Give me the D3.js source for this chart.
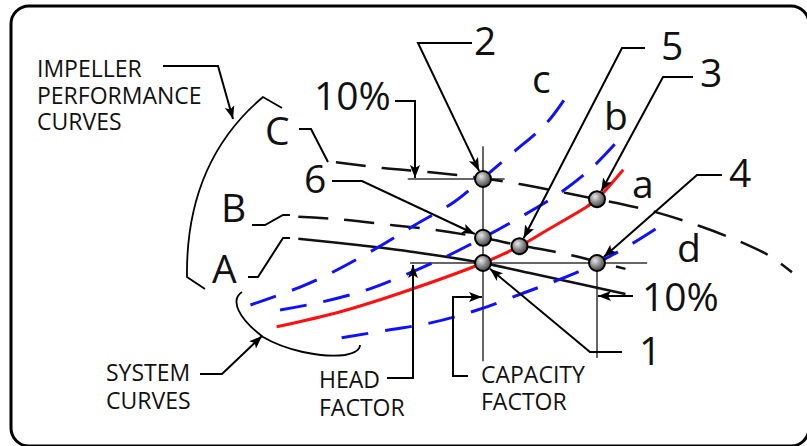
<!DOCTYPE html>
<html>
<head>
<meta charset="utf-8">
<script src="https://cdn.jsdelivr.net/npm/d3@7"></script>
<style>
  body { margin: 0; background: #fff; }
  text { font-family: "Open Sans", sans-serif; fill: #111; }
</style>
</head>
<body>
<script>
// capacity and head, both in % of the rated point (point 1)
var pumpC = [[87.1, 112.0], [91.2, 111.3], [95.4, 110.8], [100, 110.1], [103.2, 109.4], [107.4, 108.3],
  [110, 107.6], [112.5, 106.9], [115.3, 106.0], [119.0, 104.4], [122.8, 102.4], [125.2, 100.8], [127.1, 98.9]]
var pumpB = [[83.8, 105.5], [87.5, 105.2], [92.1, 104.5], [96.0, 103.9], [100, 103.0], [103.2, 102.1],
  [106.8, 101.2], [109.9, 100.2], [112.5, 99.3]]
var pumpA = [[83.8, 102.9], [89.2, 102.1], [94.5, 101.2], [100, 100], [104.1, 98.8], [108.5, 97.5], [112.5, 96.3]]

var sysA = [[81.9, 92.4], [87.5, 94.2], [92.7, 96.4], [100, 100], [103.2, 102.0], [105.6, 103.9],
  [109.1, 106.7], [110, 107.6], [112.3, 111.1]]
var sysB = [[82.2, 94.4], [86.0, 95.4], [89.8, 96.8], [92.5, 98.2], [96.2, 100.4], [100, 103.0],
  [103.2, 105.4], [106.5, 108.1], [109.6, 111.4], [111.8, 114.5]]
var sysC = [[79.6, 95.0], [83.9, 97.1], [86.8, 98.9], [90.7, 101.8], [94.0, 104.5], [97.5, 107.3],
  [100, 110.1], [102.6, 113.1], [105.6, 116.7], [107.4, 120.0]]
var sysD = [[87.6, 91.1], [91.6, 92.0], [95.5, 92.9], [99.5, 94.4], [103.5, 96.4], [107.0, 98.2],
  [110, 100], [113.2, 102.4], [116.1, 104.9]]

var pointIds = ['1', '2', '3', '4', '5', '6']
var pointCap = [100, 100, 110, 110, 103.2, 100]
var pointHead = [100, 110, 107.6, 100, 102, 103]

// guide lines: [cap1, head1, cap2, head2]
var guides = [[100, 88.3, 100, 113.9], [93.6, 100, 114.4, 100], [93.4, 110, 101.9, 110], [110, 100, 110, 88.7]]

var bigLabels = ['1', '2', '3', '4', '5', '6']
var curveLabels = ['A', 'B', 'C', 'a', 'b', 'c', 'd']

var W = 807, H = 446
var blue = '#1010ff', red = '#ff1010'

var x = d3.scaleLinear().domain([100, 110]).range([483, 597])
var y = d3.scaleLinear().domain([100, 110]).range([263, 179])

var svg = d3.select('body').append('svg').attr('width', W).attr('height', H)

var defs = svg.append('defs')
var grad = defs.append('radialGradient').attr('id', 'ball').attr('cx', '38%').attr('cy', '35%').attr('r', '65%')
grad.append('stop').attr('offset', '0%').attr('stop-color', '#e8e8e8')
grad.append('stop').attr('offset', '55%').attr('stop-color', '#8a8a8a')
grad.append('stop').attr('offset', '100%').attr('stop-color', '#4a4a4a')
defs.append('marker').attr('id', 'arr')
  .attr('markerUnits', 'userSpaceOnUse').attr('markerWidth', 14).attr('markerHeight', 10)
  .attr('refX', 13).attr('refY', 5).attr('orient', 'auto')
  .append('path').attr('d', 'M0,0 L13,5 L0,10 L3,5 z').attr('fill', '#000')

// frame
svg.append('rect').attr('x', 11).attr('y', 6).attr('width', 798).attr('height', 440).attr('rx', 18)
  .attr('fill', 'none').attr('stroke', '#000').attr('stroke-width', 3)

var line = d3.line().x(d => x(d[0])).y(d => y(d[1])).curve(d3.curveCatmullRom.alpha(0.5))

// guide lines
svg.selectAll('line.guide').data(guides).enter().append('line').attr('class', 'guide')
  .attr('x1', d => x(d[0])).attr('y1', d => y(d[1]))
  .attr('x2', d => x(d[2])).attr('y2', d => y(d[3]))
  .attr('stroke', '#333').attr('stroke-width', 1.5)

// pump curves
svg.append('path').attr('d', line(pumpC)).attr('fill', 'none').attr('stroke', '#111')
  .attr('stroke-width', 2.5).attr('stroke-dasharray', '30,16')
svg.append('path').attr('d', line(pumpB)).attr('fill', 'none').attr('stroke', '#111')
  .attr('stroke-width', 2.5).attr('stroke-dasharray', '30,16')
svg.append('path').attr('d', line(pumpA)).attr('fill', 'none').attr('stroke', '#111')
  .attr('stroke-width', 2.5)

// system curves
var sysDashed = [sysB, sysC, sysD]
svg.selectAll('path.sys').data(sysDashed).enter().append('path').attr('class', 'sys')
  .attr('d', d => line(d)).attr('fill', 'none').attr('stroke', blue)
  .attr('stroke-width', 3).attr('stroke-dasharray', '27,17')
svg.append('path').attr('d', line(sysA)).attr('fill', 'none').attr('stroke', red).attr('stroke-width', 3)

// leaders
function leader(pts, arrow) {
  svg.append('path').attr('d', d3.line()(pts)).attr('fill', 'none')
    .attr('stroke', '#000').attr('stroke-width', 2)
    .attr('marker-end', arrow ? 'url(#arr)' : null)
}
function toPoint(i, from) {
  var cx = x(pointCap[i]), cy = y(pointHead[i])
  var dx = from[0] - cx, dy = from[1] - cy, L = Math.hypot(dx, dy)
  return [cx + dx / L * 9, cy + dy / L * 9]
}

leader([[472, 43], [418, 43], toPoint(1, [418, 43])], true)
leader([[645, 48], [622, 48], toPoint(4, [622, 48])], true)
leader([[693, 77], [663, 77], toPoint(2, [663, 77])], true)
leader([[722, 175], [697, 175], toPoint(3, [697, 175])], true)
leader([[332, 181], [362, 181], toPoint(5, [362, 181])], true)
leader([[622, 352], [590, 352], toPoint(0, [590, 352])], true)

leader([[395, 101], [415, 101], [415, y(110) - 1]], true)
leader([[633, 296], [x(110) + 1, 296]], true)
leader([[387, 378], [413, 378], [413, y(100) + 2]], true)
leader([[468, 376], [453, 376], [453, 297], [x(100) - 1, 297]], true)
leader([[163, 66], [218, 66], [233, 119]], true)
leader([[200, 374], [222, 374], [262, 336]], true)

leader([[299, 129], [311, 129], [328, 162]], false)
leader([[252, 225], [265, 225], [283, 215], [290, 215]], false)
leader([[248, 277], [258, 277], [283, 238], [290, 238]], false)

// brackets
svg.append('path').attr('d', 'M282,108 L263,97 C212,140 186,200 187,277 L205,289')
  .attr('fill', 'none').attr('stroke', '#000').attr('stroke-width', 1.8)
svg.append('path').attr('d', 'M242,292 C230,300 238,318 263,337 C285,350 320,358 345,355 C355,353 360,350 360,345')
  .attr('fill', 'none').attr('stroke', '#000').attr('stroke-width', 1.8)

// operating points
svg.selectAll('circle.pt').data(pointIds).enter().append('circle').attr('class', 'pt')
  .attr('cx', (d, i) => x(pointCap[i])).attr('cy', (d, i) => y(pointHead[i])).attr('r', 8)
  .attr('fill', 'url(#ball)').attr('stroke', '#000').attr('stroke-width', 2)

// big labels
var bigPos = [[639, 365], [474, 55], [700, 87], [729, 187], [661, 60], [304, 193]]
svg.selectAll('text.num').data(bigLabels).enter().append('text').attr('class', 'num')
  .attr('x', (d, i) => bigPos[i][0]).attr('y', (d, i) => bigPos[i][1])
  .attr('font-size', 39).text(d => d)

var curvePos = [[212, 283], [221, 222], [265, 145], [632, 198], [604, 130], [532, 93], [677, 262]]
svg.selectAll('text.cl').data(curveLabels).enter().append('text').attr('class', 'cl')
  .attr('x', (d, i) => curvePos[i][0]).attr('y', (d, i) => curvePos[i][1])
  .attr('font-size', 39).text(d => d)

svg.append('text').attr('x', 314).attr('y', 110).attr('font-size', 39).text('10%')
svg.append('text').attr('x', 642).attr('y', 311).attr('font-size', 39).text('10%')

function block(lines, x0, y0, gap) {
  var t = svg.append('text').attr('font-size', 23)
  lines.forEach((s, i) => t.append('tspan').attr('x', x0).attr('y', y0 + i * gap).text(s))
}
block(['IMPELLER', 'PERFORMANCE', 'CURVES'], 37, 77, 26.5)
block(['SYSTEM', 'CURVES'], 106, 381, 28)
block(['HEAD', 'FACTOR'], 319, 388, 28)
block(['CAPACITY', 'FACTOR'], 481, 383, 27)
</script>
</body>
</html>
